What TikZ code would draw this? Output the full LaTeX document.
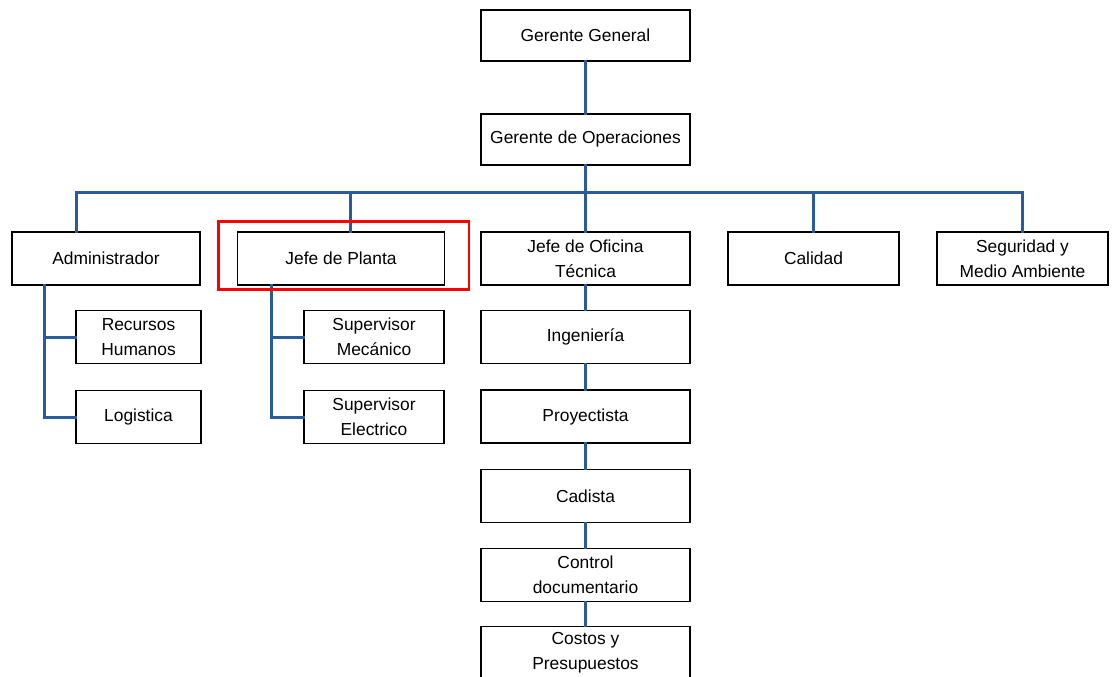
\documentclass[tikz,border=0pt]{standalone}
\usepackage{fontspec}
\setmainfont{Liberation Sans}
\definecolor{lineblue}{HTML}{2A5C9A}
\tikzset{
  box/.style={draw=black, line width=1.8pt, fill=white, align=center, inner sep=0pt,
    minimum height=53pt, font=\fontsize{17.4}{25}\selectfont},
  link/.style={draw=lineblue, line width=3pt, line cap=rect}
}
\begin{document}
\begin{tikzpicture}[x=1pt,y=-1pt]
	\useasboundingbox (0,0) rectangle (1112,677);
	\clip (0,0) rectangle (1112,677);

	\begin{scope}[every node/.style={box}]
		\node[minimum width=209pt, minimum height=51pt] (GG) at (585.5,35.5) {Gerente General};
		\node[minimum width=209pt, minimum height=51pt] (GO) at (585.5,139.5) {Gerente de Operaciones};
		\node[minimum width=188pt] (ADM) at (106,258.5) {Administrador};
		\node[minimum width=207pt] (JP) at (341,258.5) {Jefe de Planta};
		\node[minimum width=209pt] (JOT) at (585.5,258.5) {Jefe de Oficina\\Técnica};
		\node[minimum width=171pt] (CAL) at (813.5,258.5) {Calidad};
		\node[minimum width=171pt] (SEG) at (1022.5,258.5) {Seguridad y\\Medio Ambiente};
		\node[minimum width=125pt] (RH) at (138.5,337) {Recursos\\Humanos};
		\node[minimum width=125pt] (LOG) at (138.5,417) {Logistica};
		\node[minimum width=140pt] (SM) at (374,337) {Supervisor\\Mecánico};
		\node[minimum width=140pt] (SE) at (374,417) {Supervisor\\Electrico};
		\node[minimum width=209pt] (ING) at (585.5,337) {Ingeniería};
		\node[minimum width=209pt] (PRO) at (585.5,416.5) {Proyectista};
		\node[minimum width=209pt] (CAD) at (585.5,496) {Cadista};
		\node[minimum width=209pt] (CD) at (585.5,575) {Control\\documentario};
		\node[minimum width=209pt] (CP) at (585.5,653) {Costos y\\Presupuestos};
	\end{scope}

	\coordinate (bus) at (585.5,192);
	\coordinate (busL) at (76,192);
	\coordinate (busR) at (1022,192);
	\coordinate (busJP) at (350,192);
	\coordinate (spA) at (44,417);
	\coordinate (spJ) at (271,417);

	\begin{scope}[every edge/.style={link}]
		\path (GG) edge (GO);
		\path (GO) edge (bus);
		\path (busL) edge (busR);
		\path (busL) edge (busL |- ADM.north);
		\path (busJP) edge (busJP |- JP.north);
		\path (bus) edge (JOT);
		\path (CAL.north |- bus) edge (CAL);
		\path (busR) edge (busR |- SEG.north);
		\path (spA |- ADM.south) edge (spA);
		\path (spA |- RH.west) edge (RH.west);
		\path (spA) edge (LOG.west);
		\path (spJ |- JP.south) edge (spJ);
		\path (spJ |- SM.west) edge (SM.west);
		\path (spJ) edge (SE.west);
		\path (JOT) edge (ING);
		\path (ING) edge (PRO);
		\path (PRO) edge (CAD);
		\path (CAD) edge (CD);
		\path (CD) edge (CP);
	\end{scope}

	% highlight
	\draw[red, line width=2.2pt] (218.5,221.5) rectangle (469,289.5);
\end{tikzpicture}
\end{document}
